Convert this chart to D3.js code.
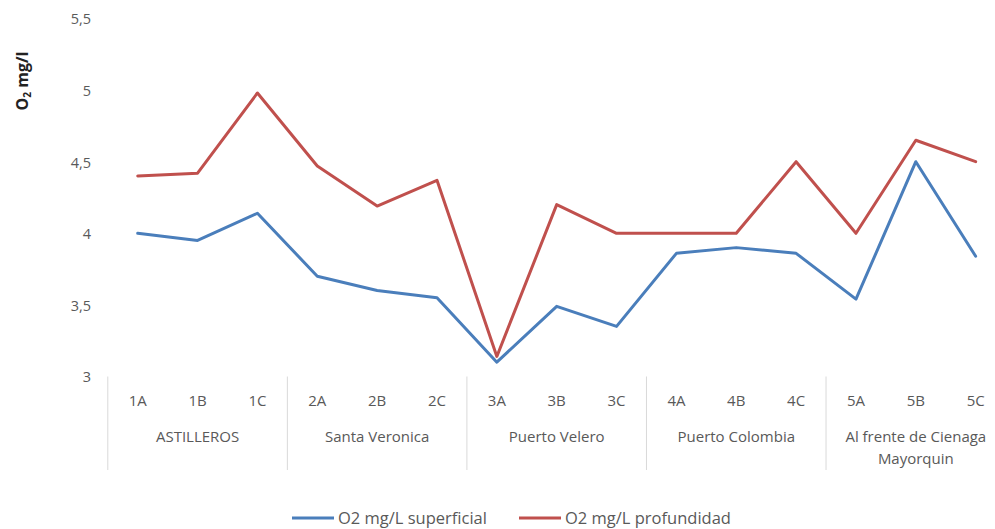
<!DOCTYPE html>
<html>
<head>
<meta charset="utf-8">
<script src="https://cdn.jsdelivr.net/npm/d3@7"></script>
<style>
html,body{margin:0;padding:0;background:#fff;}
svg{display:block;font-family:"Open Sans","Lato",sans-serif;}
</style>
</head>
<body>
<svg id="chart" width="995" height="529"></svg>
<script>
const categories = ["1A","1B","1C","2A","2B","2C","3A","3B","3C","4A","4B","4C","5A","5B","5C"];
const groups = [["ASTILLEROS"],["Santa Veronica"],["Puerto Velero"],["Puerto Colombia"],["Al frente de Cienaga","Mayorquin"]];
const superficial = [4.00,3.95,4.14,3.70,3.60,3.55,3.10,3.49,3.35,3.86,3.90,3.86,3.54,4.50,3.84];
const profundidad = [4.40,4.42,4.98,4.47,4.19,4.37,3.14,4.20,4.00,4.00,4.00,4.50,4.00,4.65,4.50];
const yTicks = [3,3.5,4,4.5,5,5.5];
const seriesNames = ["O2 mg/L superficial","O2 mg/L profundidad"];
const colors = ["#4a7ebb","#c0504d"];

(function(){
const svg = d3.select("#chart");
const pL = 107.8, pR = 1005.6, pT = 18.5, pB = 376.5;

const x = d3.scaleBand().domain(categories).range([pL, pR]).padding(0);
const y = d3.scaleLinear().domain([3, 5.5]).range([pB, pT]);
const fmt = v => String(v).replace(".", ",");

svg.append("g").selectAll("text").data(yTicks).join("text")
  .attr("x", 91).attr("y", d => y(d)).attr("dy", "0.4em")
  .attr("text-anchor", "end").attr("fill", "#595959").attr("font-size", 14.5)
  .text(fmt);

svg.append("text")
  .attr("transform", "translate(28,81) rotate(-90)")
  .attr("text-anchor", "middle").attr("font-size", 16).attr("font-weight", "bold").attr("fill", "#222")
  .call(t => {
    t.append("tspan").text("O");
    t.append("tspan").attr("font-size", 10).attr("dy", 3).text("2");
    t.append("tspan").attr("dy", -3).text(" mg/l");
  });

const bw = x.bandwidth();
const sepX = d3.range(groups.length + 1).map(i => pL + i * 3 * bw);
svg.append("g").selectAll("line").data(sepX).join("line")
  .attr("x1", d => d).attr("x2", d => d).attr("y1", pB).attr("y2", 470)
  .attr("stroke", "#d9d9d9").attr("stroke-width", 1);

svg.append("g").selectAll("text").data(categories).join("text")
  .attr("x", d => x(d) + bw / 2).attr("y", 401).attr("dy", "0.35em")
  .attr("text-anchor", "middle").attr("fill", "#595959").attr("font-size", 15)
  .text(d => d);

groups.forEach((g, i) => {
  const cx = pL + (i * 3 + 1.5) * bw;
  g.forEach((line, j) => {
    svg.append("text").attr("x", cx).attr("y", 437 + j * 22).attr("dy", "0.35em")
      .attr("text-anchor", "middle").attr("fill", "#595959").attr("font-size", 15)
      .text(line);
  });
});

const lineGen = d3.line().x((d, i) => x(categories[i]) + bw / 2).y(d => y(d));
[superficial, profundidad].forEach((s, k) => {
  svg.append("path").datum(s).attr("d", lineGen)
    .attr("fill", "none").attr("stroke", colors[k]).attr("stroke-width", 3)
    .attr("stroke-linejoin", "round").attr("stroke-linecap", "round");
});

const legendX = [292, 519];
seriesNames.forEach((n, k) => {
  const g = svg.append("g").attr("transform", `translate(${legendX[k]},518)`);
  g.append("line").attr("x1", 0).attr("x2", 42).attr("stroke", colors[k]).attr("stroke-width", 3);
  g.append("text").attr("x", 46).attr("dy", "0.35em").attr("font-size", 16.5).attr("fill", "#595959").text(n);
});
})();
</script>
</body>
</html>
